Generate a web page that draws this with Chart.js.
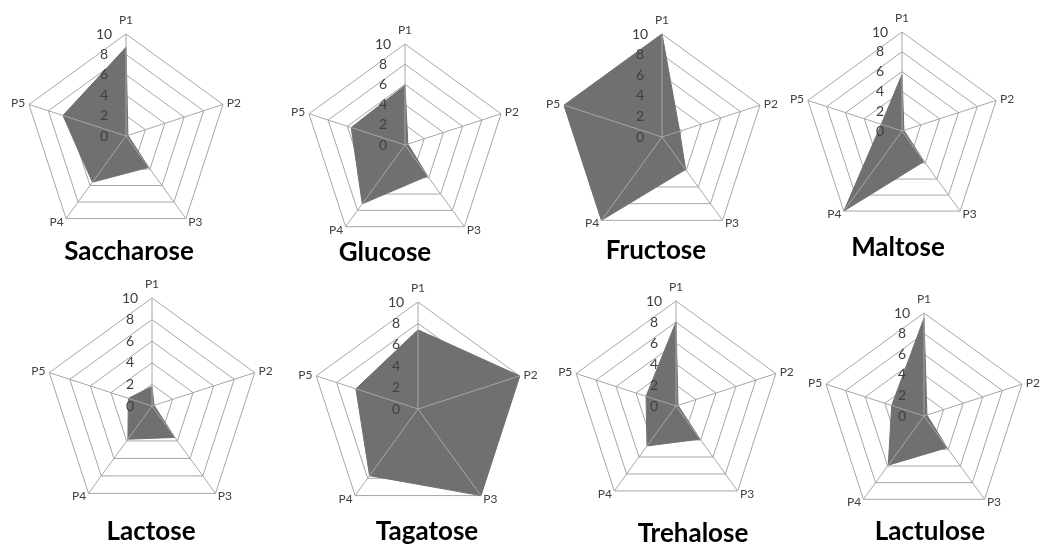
<!DOCTYPE html>
<html>
<head>
<meta charset="utf-8">
<script src="https://cdn.jsdelivr.net/npm/chart.js@4.4.1/dist/chart.umd.min.js"></script>
<style>
  body { margin: 0; background: #fff; }
  #wrap { position: relative; width: 1048px; height: 548px; overflow: hidden; }
  #wrap canvas { position: absolute; left: 0; top: 0; }
  .title {
    position: absolute;
    font-family: Lato, "Open Sans", sans-serif;
    font-weight: bold;
    font-size: 26px;
    line-height: 1.2;
    color: #000;
    transform: translateX(-50%);
    white-space: nowrap;
  }
</style>
</head>
<body>
<div id="wrap"></div>
<script>
// radar axes and scale ticks
var labels = ["P1", "P2", "P3", "P4", "P5"];
var tickValues = [0, 2, 4, 6, 8, 10];

// sugars
var names = ["Saccharose", "Glucose", "Fructose", "Maltose", "Lactose", "Tagatose", "Trehalose", "Lactulose"];
var saccharose = [8.7, 0.2, 3.8, 5.6, 6.5];
var glucose    = [5.9, 0.3, 3.8, 7.2, 5.6];
var fructose   = [10, 1.8, 3.9, 10, 10];
var maltose    = [5.7, 0.2, 3.8, 10, 2.2];
var lactose    = [1.8, 0.2, 3.6, 3.8, 2.3];
var tagatose   = [7.4, 10, 10, 7.7, 6.1];
var trehalose  = [8.0, 0.2, 3.9, 4.7, 3.0];
var lactulose  = [9.5, 0.3, 3.8, 5.9, 3.3];
var series = [saccharose, glucose, fructose, maltose, lactose, tagatose, trehalose, lactulose];

// where each small radar sits on the page (centre, radius, title)
var layout = [
  { cx: 126, cy: 136, r: 102, tx: 129, ty: 261 },
  { cx: 405, cy: 145, r: 101, tx: 385, ty: 262 },
  { cx: 662, cy: 137, r: 103, tx: 656, ty: 260 },
  { cx: 902, cy: 131, r: 99,  tx: 898, ty: 257 },
  { cx: 152, cy: 406, r: 108, tx: 151, ty: 541 },
  { cx: 418, cy: 409, r: 107, tx: 427, ty: 541 },
  { cx: 676, cy: 406, r: 105, tx: 693, ty: 543 },
  { cx: 924, cy: 416, r: 103, tx: 930, ty: 541 }
];

var W = 1048, H = 548;
var gridColor = "#a6a6a6";
var textColor = "#404040";

// spokes, tick numbers and P-labels go on top of the grey fill, like Excel does
var overlay = {
  id: "overlay",
  afterDatasetsDraw: function (chart) {
    var s = chart.scales.r;
    var ctx = chart.ctx;
    ctx.save();
    ctx.strokeStyle = gridColor;
    ctx.lineWidth = 1;
    for (var i = 0; i < labels.length; i++) {
      var p = s.getPointPositionForValue(i, s.max);
      ctx.beginPath();
      ctx.moveTo(s.xCenter, s.yCenter);
      ctx.lineTo(p.x, p.y);
      ctx.stroke();
    }

    ctx.fillStyle = textColor;
    ctx.font = "14px Lato";
    ctx.textAlign = "center";
    ctx.textBaseline = "middle";
    tickValues.forEach(function (v) {
      var y = s.yCenter - s.getDistanceFromCenterForValue(v);
      ctx.fillText(String(v), s.xCenter - 22, y);
    });

    ctx.font = "12px Lato";
    for (var j = 0; j < labels.length; j++) {
      var pad = j === 0 ? 8 : 4;
      var q = s.getPointPosition(j, s.drawingArea + pad);
      var dx = q.x - s.xCenter;
      ctx.textAlign = Math.abs(dx) < 1 ? "center" : (dx > 0 ? "left" : "right");
      ctx.textBaseline = j === 0 ? "bottom" : "middle";
      ctx.fillText(labels[j], q.x, q.y);
    }
    ctx.restore();
  }
};

var wrap = document.getElementById("wrap");

names.forEach(function (name, k) {
  var L = layout[k];
  var canvas = document.createElement("canvas");
  canvas.width = W;
  canvas.height = H;
  wrap.appendChild(canvas);

  var t = document.createElement("div");
  t.className = "title";
  t.textContent = name;
  t.style.left = L.tx + "px";
  t.style.top = (L.ty - 26) + "px";
  wrap.appendChild(t);

  new Chart(canvas.getContext("2d"), {
    type: "radar",
    data: {
      labels: labels,
      datasets: [{
        label: name,
        data: series[k],
        fill: true,
        backgroundColor: "#707070",
        borderColor: "#707070",
        borderWidth: 1,
        pointRadius: 0,
        tension: 0
      }]
    },
    options: {
      responsive: false,
      animation: false,
      devicePixelRatio: 1,
      layout: {
        padding: {
          left: L.cx - L.r,
          right: W - L.cx - L.r,
          top: L.cy - L.r,
          bottom: H - L.cy - L.r
        }
      },
      plugins: {
        legend: { display: false },
        tooltip: { enabled: false }
      },
      scales: {
        r: {
          min: 0,
          max: 10,
          ticks: { display: false, stepSize: 2 },
          pointLabels: { display: false },
          angleLines: { display: false },
          grid: { color: gridColor, lineWidth: 1 }
        }
      }
    },
    plugins: [overlay]
  });
});
</script>
</body>
</html>
